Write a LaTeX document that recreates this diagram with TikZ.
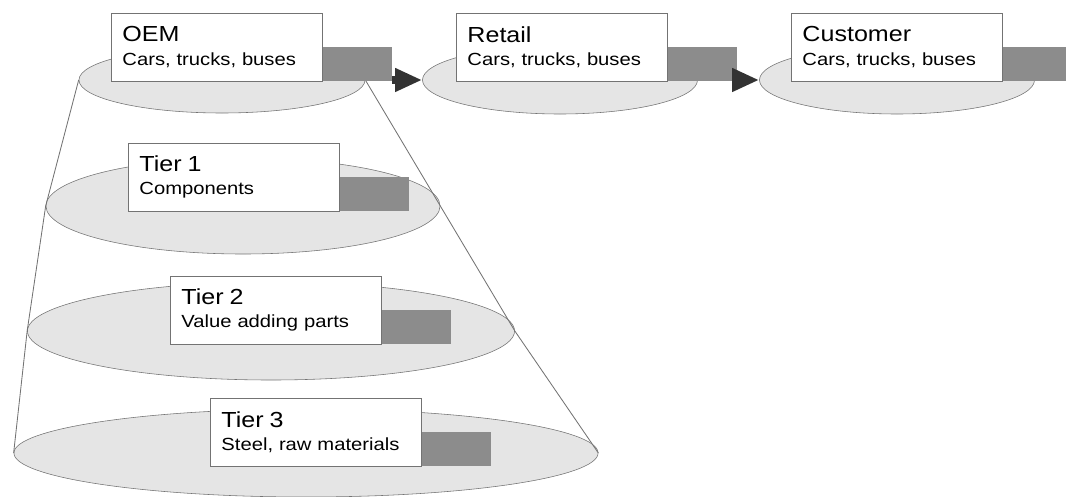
\documentclass[tikz,border=0pt]{standalone}
\usepackage{fontspec}
\setmainfont{Liberation Sans}[FakeStretch=1.15]
\usetikzlibrary{shapes.geometric,arrows.meta,positioning}

\definecolor{discfill}{gray}{0.9}
\definecolor{rim}{gray}{0.45}
\definecolor{tabfill}{gray}{0.55}
\definecolor{arrowfill}{gray}{0.2}

\newcommand{\headline}[1]{{\fontsize{15.5}{16.4}\selectfont #1}}

\begin{document}
\begin{tikzpicture}[x=0.025cm,y=-0.025cm,
	disc/.style = {draw=rim, fill=discfill, ellipse, inner sep=0pt},
	stage/.style = {draw=rim, fill=white, minimum width=5.275cm, minimum height=1.7cm,
		text width=4.725cm, inner xsep=0.275cm, align=left, font=\fontsize{12.5}{16.4}\selectfont},
	tab/.style = {fill=tabfill, minimum width=1.725cm, minimum height=0.85cm, inner sep=0pt, anchor=south west},
	flow/.style = {arrowfill, line width=5pt, -{Triangle[length=0.675cm,width=0.55cm]}},
	cone/.style = {draw=rim, line width=0.6pt}]
	\clip (0,0) rectangle (1066,497);
	% discs of the chain and of the tiers
	\node[disc, minimum width=7.15cm, minimum height=1.65cm] (oem) at (222,80) {};
	\node[disc, minimum width=6.875cm, minimum height=1.7cm] (retail) at (560,80) {};
	\node[disc, minimum width=6.875cm, minimum height=1.7cm] (customer) at (897,80) {};
	\node[disc, minimum width=9.85cm, minimum height=2.4cm] (tier1) at (243,206) {};
	\node[disc, minimum width=12.175cm, minimum height=2.45cm] (tier2) at (271,331) {};
	\node[disc, minimum width=14.6cm, minimum height=2.2cm] (tier3) at (306,453) {};
	% funnel sides
	\draw[cone] (oem.west) -- (tier1.west) -- (tier2.west) -- (tier3.west);
	\draw[cone] (oem.east) -- (tier1.east) -- (tier2.east) -- (tier3.east);
	% labels with their grey tabs
	\node[stage] (oembox) at (217,47) {\headline{OEM}\\Cars, trucks, buses};
	\node[tab] (oemtab) at (oembox.south east) {};
	\node[stage] (retailbox) at (562,47) {\headline{Retail}\\Cars, trucks, buses};
	\node[tab] (retailtab) at (retailbox.south east) {};
	\node[stage] (customerbox) at (897,47) {\headline{Customer}\\Cars, trucks, buses};
	\node[tab] (customertab) at (customerbox.south east) {};
	\node[stage] (tier1box) at (234,177) {\headline{Tier 1}\\Components};
	\node[tab] (tier1tab) at (tier1box.south east) {};
	\node[stage] (tier2box) at (276,310) {\headline{Tier 2}\\Value adding parts};
	\node[tab] (tier2tab) at (tier2box.south east) {};
	\node[stage] (tier3box) at (316,432) {\headline{Tier 3}\\Steel, raw materials};
	\node[tab] (tier3tab) at (tier3box.south east) {};
	\draw[flow] (oemtab.east |- retail.west) -- (retail.west);
	\draw[flow] (retailtab.east |- customer.west) -- (customer.west);
\end{tikzpicture}
\end{document}
